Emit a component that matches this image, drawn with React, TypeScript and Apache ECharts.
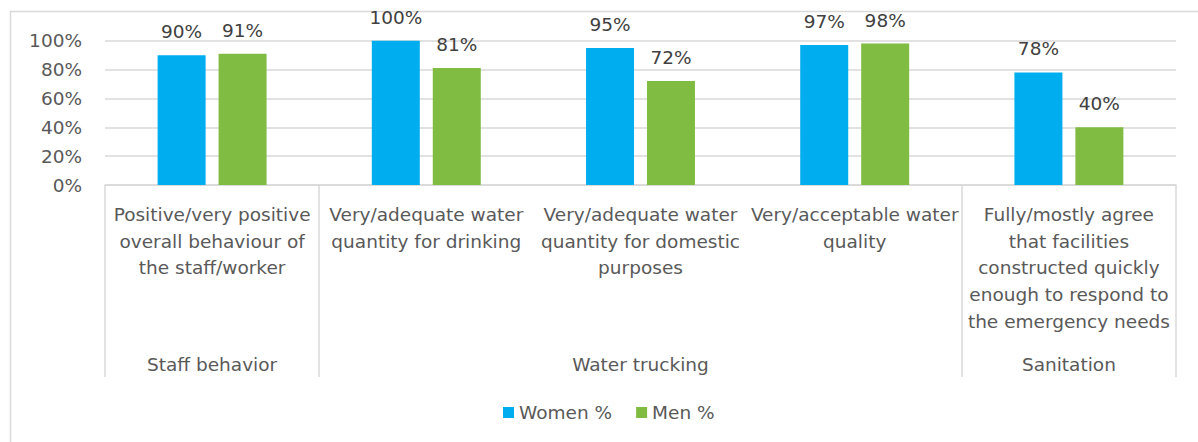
import React, { useEffect, useRef } from "react";
import * as echarts from "echarts";

// Survey satisfaction by gender, grouped by service area
const categories = [
  "Positive/very positive\noverall behaviour of\nthe staff/worker",
  "Very/adequate water\nquantity for drinking",
  "Very/adequate water\nquantity for domestic\npurposes",
  "Very/acceptable water\nquality",
  "Fully/mostly agree\nthat facilities\nconstructed quickly\nenough to respond to\nthe emergency needs",
];
// Group names placed under the middle category of each group
const groupLabels = ["Staff behavior", "", "Water trucking", "", "Sanitation"];
// Category indices where a group starts (the axis end closes the last one)
const groupStarts = [0, 1, 4];

const womenValues = [90, 100, 95, 97, 78];
const menValues = [91, 81, 72, 98, 40];

const yTicks = [0, 20, 40, 60, 80, 100];

const FONT = "DejaVu Sans";
const AXIS_TEXT = "#595959";
const LABEL_TEXT = "#404040";
const GRID = "#d9d9d9";

export default function App() {
  const ref = useRef<HTMLDivElement>(null);

  useEffect(() => {
    if (!ref.current) return;
    const chart = echarts.init(ref.current, null, { renderer: "svg" });

    const valueLabel = {
      show: true,
      position: "top",
      distance: 14,
      formatter: "{c}%",
      fontFamily: FONT,
      fontSize: 18.5,
      color: LABEL_TEXT,
    };

    chart.setOption({
      animation: false,
      backgroundColor: "#ffffff",
      textStyle: { fontFamily: FONT },
      graphic: [
        {
          type: "rect",
          shape: { x: 10.5, y: 11.5, width: 1300, height: 600 },
          style: { fill: "none", stroke: GRID, lineWidth: 1.5 },
          silent: true,
        },
      ],
      grid: { left: 105, right: 22, top: 40.7, bottom: 257, containLabel: false },
      legend: {
        left: 498,
        top: 398,
        icon: "rect",
        itemWidth: 11,
        itemHeight: 11,
        itemGap: 24,
        textStyle: { fontFamily: FONT, fontSize: 18.5, color: AXIS_TEXT },
        data: ["Women %", "Men %"],
      },
      xAxis: [
        {
          type: "category",
          data: categories,
          position: "bottom",
          axisLine: { show: true, lineStyle: { color: GRID, width: 1.5 } },
          axisTick: {
            show: true,
            length: 192,
            interval: (index: number) => groupStarts.includes(index),
            lineStyle: { color: GRID, width: 1.5 },
          },
          axisLabel: {
            interval: 0,
            margin: 16,
            fontFamily: FONT,
            fontSize: 18.5,
            lineHeight: 26.7,
            color: AXIS_TEXT,
            verticalAlign: "top",
          },
        },
        {
          type: "category",
          data: groupLabels,
          position: "bottom",
          axisLine: { show: false },
          axisTick: { show: false },
          axisLabel: {
            interval: 0,
            margin: 166,
            fontFamily: FONT,
            fontSize: 18.5,
            lineHeight: 26.7,
            color: AXIS_TEXT,
          },
        },
      ],
      yAxis: {
        type: "value",
        min: yTicks[0],
        max: yTicks[yTicks.length - 1],
        interval: 20,
        axisLine: { show: false },
        axisTick: { show: false },
        splitLine: { lineStyle: { color: GRID, width: 1.5 } },
        axisLabel: {
          formatter: "{value}%",
          margin: 23,
          fontFamily: FONT,
          fontSize: 18.5,
          color: AXIS_TEXT,
        },
      },
      series: [
        {
          name: "Women %",
          type: "bar",
          data: womenValues,
          barWidth: 48,
          barGap: "27%",
          itemStyle: { color: "#00ADEF" },
          label: valueLabel,
        },
        {
          name: "Men %",
          type: "bar",
          data: menValues,
          barWidth: 48,
          barGap: "27%",
          itemStyle: { color: "#80BC41" },
          label: valueLabel,
        },
      ],
    });

    return () => chart.dispose();
  }, []);

  return (
    <div
      ref={ref}
      style={{ position: "fixed", left: 0, top: 0, width: 1198, height: 442 }}
    />
  );
}
